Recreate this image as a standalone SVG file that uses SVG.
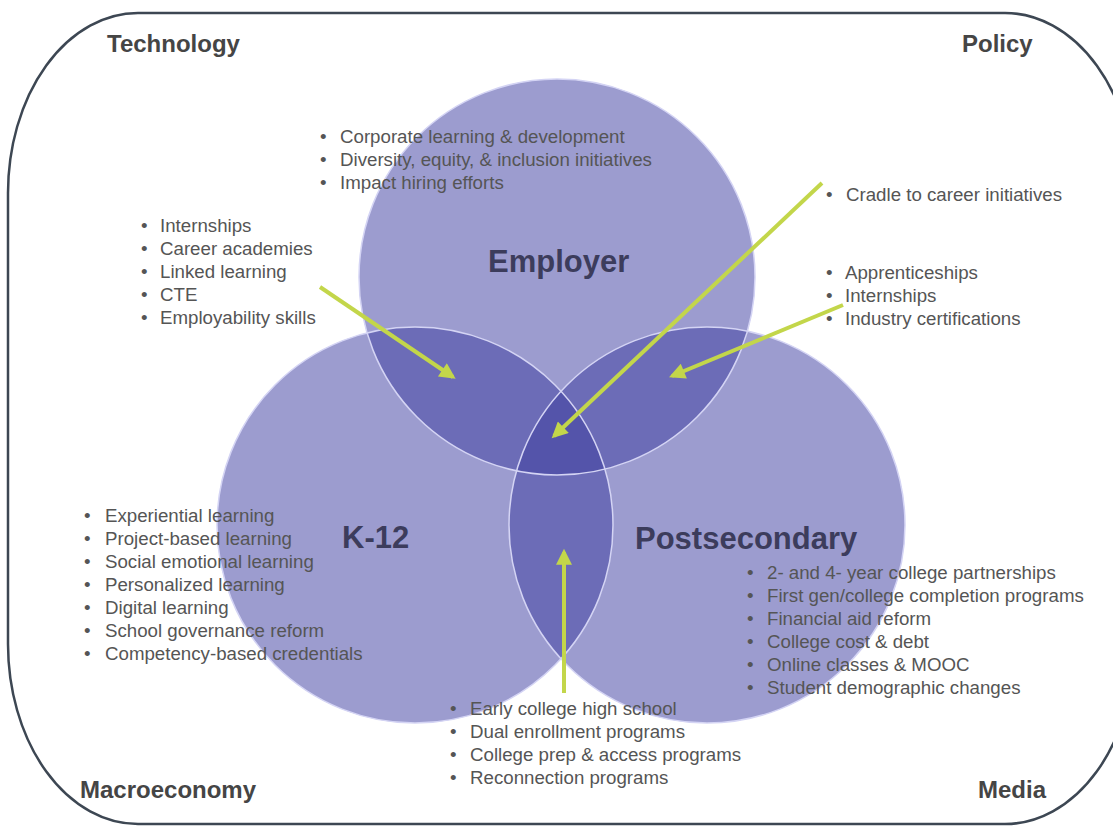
<svg xmlns="http://www.w3.org/2000/svg" width="1113" height="826" viewBox="0 0 1113 826">
  <style>
    .item { font-family: "Liberation Sans", Arial, sans-serif; font-size: 18.7px; fill: #555555; }
    .head { font-family: "Liberation Sans", Arial, sans-serif; font-size: 31px; font-weight: bold; fill: #3c3c5c; }
    .corner { font-family: "Liberation Sans", Arial, sans-serif; font-size: 24px; font-weight: bold; fill: #454545; }
    .base { fill: #9c9ccf; }
    .lens { fill: #6c6cb7; }
    .core { fill: #5454aa; }
    .edge { fill: none; stroke: #d4d4f4; stroke-width: 1.5; }
    .arrow { stroke: #c3d64a; stroke-width: 4; fill: none; marker-end: url(#head); }
  </style>
  <defs>
    <marker id="head" viewBox="0 0 10 10" refX="8" refY="5" markerWidth="4.5" markerHeight="4" orient="auto">
      <path d="M0,0 L10,5 L0,10 Z" fill="#c3d64a"/>
    </marker>
    <clipPath id="clipE"><circle cx="557" cy="277" r="198"/></clipPath>
    <clipPath id="clipK"><circle cx="415" cy="525" r="198"/></clipPath>
    <clipPath id="clipP"><circle cx="707" cy="525" r="198"/></clipPath>
  </defs>
  <rect id="frame" x="8" y="13" width="1127" height="811" rx="130" ry="180" fill="none" stroke="#3d4753" stroke-width="2.5"/>

  <g id="corners">
    <text class="corner" x="107" y="52">Technology</text>
    <text class="corner" x="962" y="52">Policy</text>
    <text class="corner" x="80" y="798">Macroeconomy</text>
    <text class="corner" x="978" y="798">Media</text>
  </g>

  <g id="venn">
    <circle id="employer-circle" class="base" cx="557" cy="277" r="198"/>
    <circle id="k12-circle" class="base" cx="415" cy="525" r="198"/>
    <circle id="post-circle" class="base" cx="707" cy="525" r="198"/>
    <circle class="lens" cx="415" cy="525" r="198" clip-path="url(#clipE)"/>
    <circle class="lens" cx="707" cy="525" r="198" clip-path="url(#clipE)"/>
    <circle class="lens" cx="707" cy="525" r="198" clip-path="url(#clipK)"/>
    <g clip-path="url(#clipE)">
      <circle class="core" cx="707" cy="525" r="198" clip-path="url(#clipK)"/>
    </g>
    <circle class="edge" cx="557" cy="277" r="198"/>
    <circle class="edge" cx="415" cy="525" r="198"/>
    <circle class="edge" cx="707" cy="525" r="198"/>
  </g>

  <g id="employer">
    <text class="head" x="488" y="272">Employer</text>
    <text class="item" x="320" y="143">•</text><text class="item" x="340" y="143">Corporate learning &amp; development</text>
    <text class="item" x="320" y="166">•</text><text class="item" x="340" y="166">Diversity, equity, &amp; inclusion initiatives</text>
    <text class="item" x="320" y="189">•</text><text class="item" x="340" y="189">Impact hiring efforts</text>
  </g>

  <g id="k12">
    <text class="head" x="342" y="548">K-12</text>
    <text class="item" x="84" y="522">•</text><text class="item" x="105" y="522">Experiential learning</text>
    <text class="item" x="84" y="545">•</text><text class="item" x="105" y="545">Project-based learning</text>
    <text class="item" x="84" y="568">•</text><text class="item" x="105" y="568">Social emotional learning</text>
    <text class="item" x="84" y="591">•</text><text class="item" x="105" y="591">Personalized learning</text>
    <text class="item" x="84" y="614">•</text><text class="item" x="105" y="614">Digital learning</text>
    <text class="item" x="84" y="637">•</text><text class="item" x="105" y="637">School governance reform</text>
    <text class="item" x="84" y="660">•</text><text class="item" x="105" y="660">Competency-based credentials</text>
  </g>

  <g id="postsecondary">
    <text class="head" x="635" y="549">Postsecondary</text>
    <text class="item" x="747" y="579">•</text><text class="item" x="767" y="579">2- and 4- year college partnerships</text>
    <text class="item" x="747" y="602">•</text><text class="item" x="767" y="602">First gen/college completion programs</text>
    <text class="item" x="747" y="625">•</text><text class="item" x="767" y="625">Financial aid reform</text>
    <text class="item" x="747" y="648">•</text><text class="item" x="767" y="648">College cost &amp; debt</text>
    <text class="item" x="747" y="671">•</text><text class="item" x="767" y="671">Online classes &amp; MOOC</text>
    <text class="item" x="747" y="694">•</text><text class="item" x="767" y="694">Student demographic changes</text>
  </g>

  <g id="employer-k12">
    <text class="item" x="141" y="232">•</text><text class="item" x="160" y="232">Internships</text>
    <text class="item" x="141" y="255">•</text><text class="item" x="160" y="255">Career academies</text>
    <text class="item" x="141" y="278">•</text><text class="item" x="160" y="278">Linked learning</text>
    <text class="item" x="141" y="301">•</text><text class="item" x="160" y="301">CTE</text>
    <text class="item" x="141" y="324">•</text><text class="item" x="160" y="324">Employability skills</text>
  </g>

  <g id="all-three">
    <text class="item" x="826" y="201">•</text><text class="item" x="846" y="201">Cradle to career initiatives</text>
  </g>

  <g id="employer-post">
    <text class="item" x="826" y="279">•</text><text class="item" x="845" y="279">Apprenticeships</text>
    <text class="item" x="826" y="302">•</text><text class="item" x="845" y="302">Internships</text>
    <text class="item" x="826" y="325">•</text><text class="item" x="845" y="325">Industry certifications</text>
  </g>

  <g id="k12-post">
    <text class="item" x="450" y="715">•</text><text class="item" x="470" y="715">Early college high school</text>
    <text class="item" x="450" y="738">•</text><text class="item" x="470" y="738">Dual enrollment programs</text>
    <text class="item" x="450" y="761">•</text><text class="item" x="470" y="761">College prep &amp; access programs</text>
    <text class="item" x="450" y="784">•</text><text class="item" x="470" y="784">Reconnection programs</text>
  </g>

  <g id="connectors">
    <line class="arrow" x1="320" y1="287" x2="453" y2="377"/>
    <line class="arrow" x1="822" y1="183" x2="554" y2="436"/>
    <line class="arrow" x1="843" y1="305" x2="672" y2="376"/>
    <line class="arrow" x1="564" y1="693" x2="564" y2="552"/>
  </g>
</svg>
